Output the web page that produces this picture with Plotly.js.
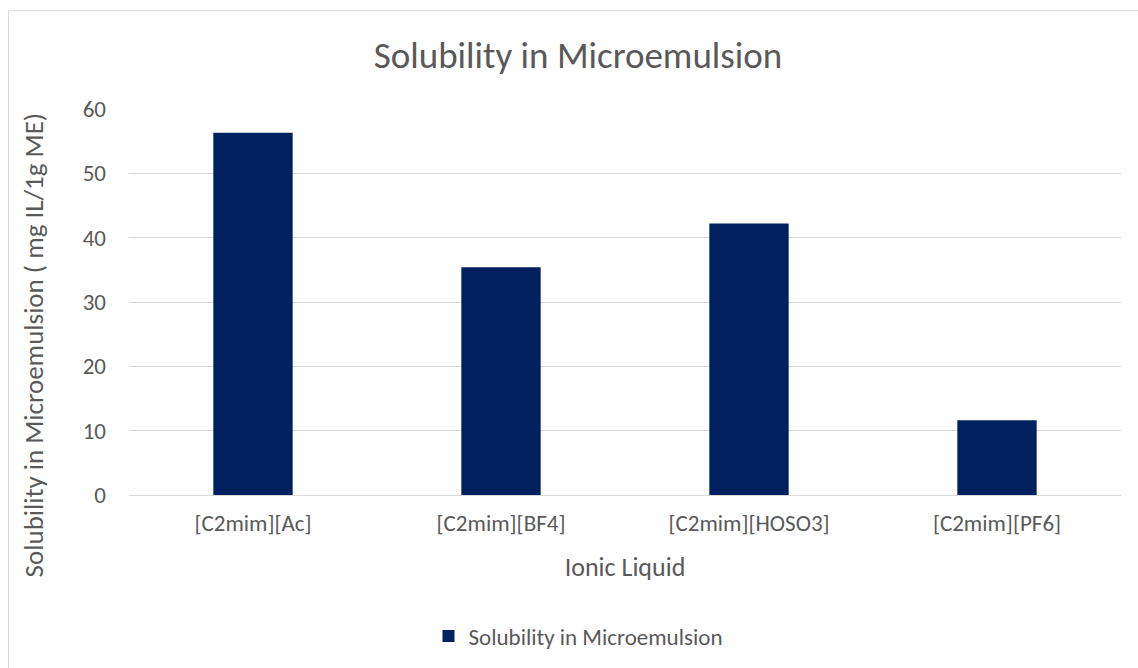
<!DOCTYPE html>
<html><head><meta charset="utf-8">
<script src="https://cdn.plot.ly/plotly-3.0.1.min.js"></script>
<style>html,body{margin:0;padding:0;background:#fff;}</style>
</head><body><div id="chart" style="width:1138px;height:668px;"></div>
<script>
const categories = ["[C2mim][Ac]", "[C2mim][BF4]", "[C2mim][HOSO3]", "[C2mim][PF6]"];
const solubility = [56.3, 35.4, 42.2, 11.6];
const seriesName = "Solubility in Microemulsion";
const yTitle = "Solubility in Microemulsion ( mg IL/1g ME)";

const font = "Carlito, Calibri, 'Open Sans', 'Liberation Sans', sans-serif";
const grey = "#595959";
const trace = {
  type: "bar", x: categories, y: solubility, name: seriesName,
  marker: {color: "#002060"}, showlegend: true
};
const layout = {
  width: 1138, height: 668,
  margin: {l: 129, r: 17, t: 109, b: 172},
  paper_bgcolor: "#fff", plot_bgcolor: "#fff",
  font: {family: font, color: grey, size: 24},
  bargap: 0.68,
  title: {text: "Solubility in Microemulsion", font: {size: 37, color: grey, family: font},
          x: 578/1138, xanchor: "center", y: 1 - 55/668, yanchor: "middle"},
  xaxis: {title: {text: "Ionic Liquid", font: {size: 26, color: grey}, standoff: 22},
          tickfont: {size: 23, color: grey}, showgrid: false, showline: true, automargin: false,
          linecolor: "#d9d9d9", linewidth: 1, ticks: "", ticklabelstandoff: 7, fixedrange: true},
  yaxis: {range: [0, 60], dtick: 10, tickfont: {size: 23, color: grey}, automargin: false,
          showgrid: true, gridcolor: "#d9d9d9", gridwidth: 1, zeroline: false,
          showline: false, ticks: "", ticklabelstandoff: 22},
  annotations: [{text: yTitle, textangle: -90, xref: "paper", yref: "paper",
                 x: (33-129)/992, y: (496-346)/387, xanchor: "center", yanchor: "middle",
                 showarrow: false, font: {size: 27, color: grey}}],
  legend: {orientation: "h", x: (578-129)/992, xanchor: "center", y: (496-636)/387, yanchor: "middle",
           font: {size: 23, color: grey}, itemwidth: 30},
  shapes: [{type: "rect", xref: "paper", yref: "paper",
            x0: (8.5-129)/992, x1: (1160-129)/992, y0: (496-700)/387, y1: (496-10.5)/387,
            line: {color: "#d9d9d9", width: 1}, fillcolor: "rgba(0,0,0,0)", layer: "below"}]
};
Plotly.newPlot("chart", [trace], layout, {displayModeBar: false, staticPlot: true});
</script></body></html>
